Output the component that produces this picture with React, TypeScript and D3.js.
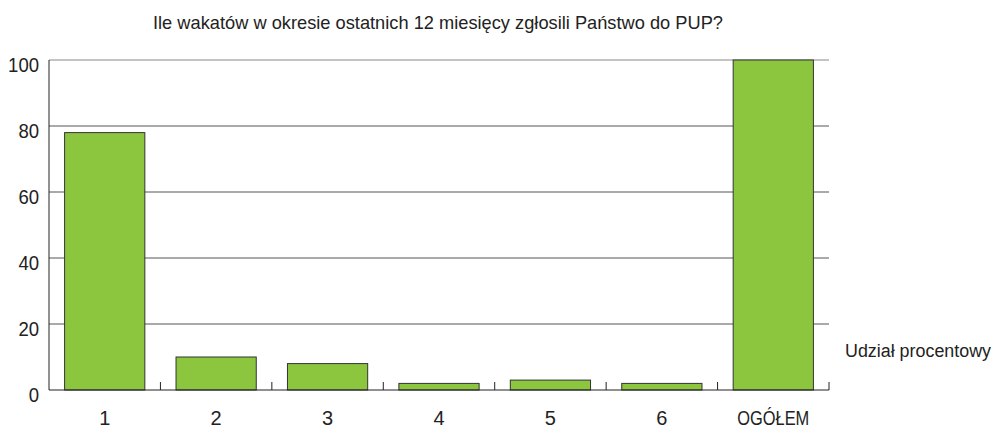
import React from "react";
import * as d3 from "d3";

const categories = ["1", "2", "3", "4", "5", "6", "OGÓŁEM"];
const values = [78, 10, 8, 2, 3, 2, 100];
const yTicks = [0, 20, 40, 60, 80, 100];
const title = "Ile wakatów w okresie ostatnich 12 miesięcy zgłosili Państwo do PUP?";
const seriesName = "Udział procentowy";

const W = 995;
const H = 430;
const margin = { top: 60, right: 166, bottom: 40, left: 49 };
const font = "'Liberation Sans', Arial, sans-serif";

export default function App() {
  const innerW = W - margin.left - margin.right;
  const innerH = H - margin.top - margin.bottom;

  const x = d3.scaleBand().domain(categories).range([0, innerW]).paddingInner(0.28).paddingOuter(0.14);
  const xb = d3.scaleBand().domain(categories).range([0, innerW]);
  const y = d3.scaleLinear().domain([0, 100]).range([innerH, 0]);

  return (
    <svg width={W} height={H} style={{ position: "absolute", left: 0, top: 0, background: "#fff" }}>
      <text x={153} y={29} fontFamily={font} fontSize={19} fill="#222" textLength={570} lengthAdjust="spacingAndGlyphs">
        {title}
      </text>
      <g transform={`translate(${margin.left},${margin.top})`}>
        {/* gridlines */}
        {yTicks.filter((t) => t > 0).map((t) => (
          <line key={t} x1={0} x2={innerW} y1={y(t)} y2={y(t)} stroke={t === 100 ? "#888" : "#555"} strokeWidth={1} />
        ))}
        {/* bars */}
        {categories.map((c, i) => (
          <rect
            key={c}
            x={x(c)}
            y={y(values[i])}
            width={x.bandwidth()}
            height={innerH - y(values[i])}
            fill="#8cc63f"
            stroke="#333"
            strokeWidth={1}
          />
        ))}
        {/* axes */}
        <line x1={0} x2={0} y1={0} y2={innerH} stroke="#222" strokeWidth={1} />
        <line x1={0} x2={innerW} y1={innerH} y2={innerH} stroke="#222" strokeWidth={1} />
        {categories.map((c) => (
          <line key={c} x1={xb(c)! + xb.bandwidth()} x2={xb(c)! + xb.bandwidth()} y1={innerH - 8} y2={innerH} stroke="#222" />
        ))}
        {yTicks.map((t) => (
          <text key={t} x={-10} y={y(t) + 12} textAnchor="end" fontFamily={font} fontSize={20} fill="#222"
            textLength={String(t).length * 10.3} lengthAdjust="spacingAndGlyphs">
            {t}
          </text>
        ))}
        {categories.map((c) => (
          <text key={c} x={xb(c)! + xb.bandwidth() / 2} y={innerH + 35} textAnchor="middle" fontFamily={font} fontSize={20} fill="#222"
            textLength={c.length > 1 ? 72 : undefined} lengthAdjust="spacingAndGlyphs">
            {c}
          </text>
        ))}
      </g>
      <text x={845} y={357} fontFamily={font} fontSize={18} fill="#222" textLength={146} lengthAdjust="spacingAndGlyphs">
        {seriesName}
      </text>
    </svg>
  );
}
